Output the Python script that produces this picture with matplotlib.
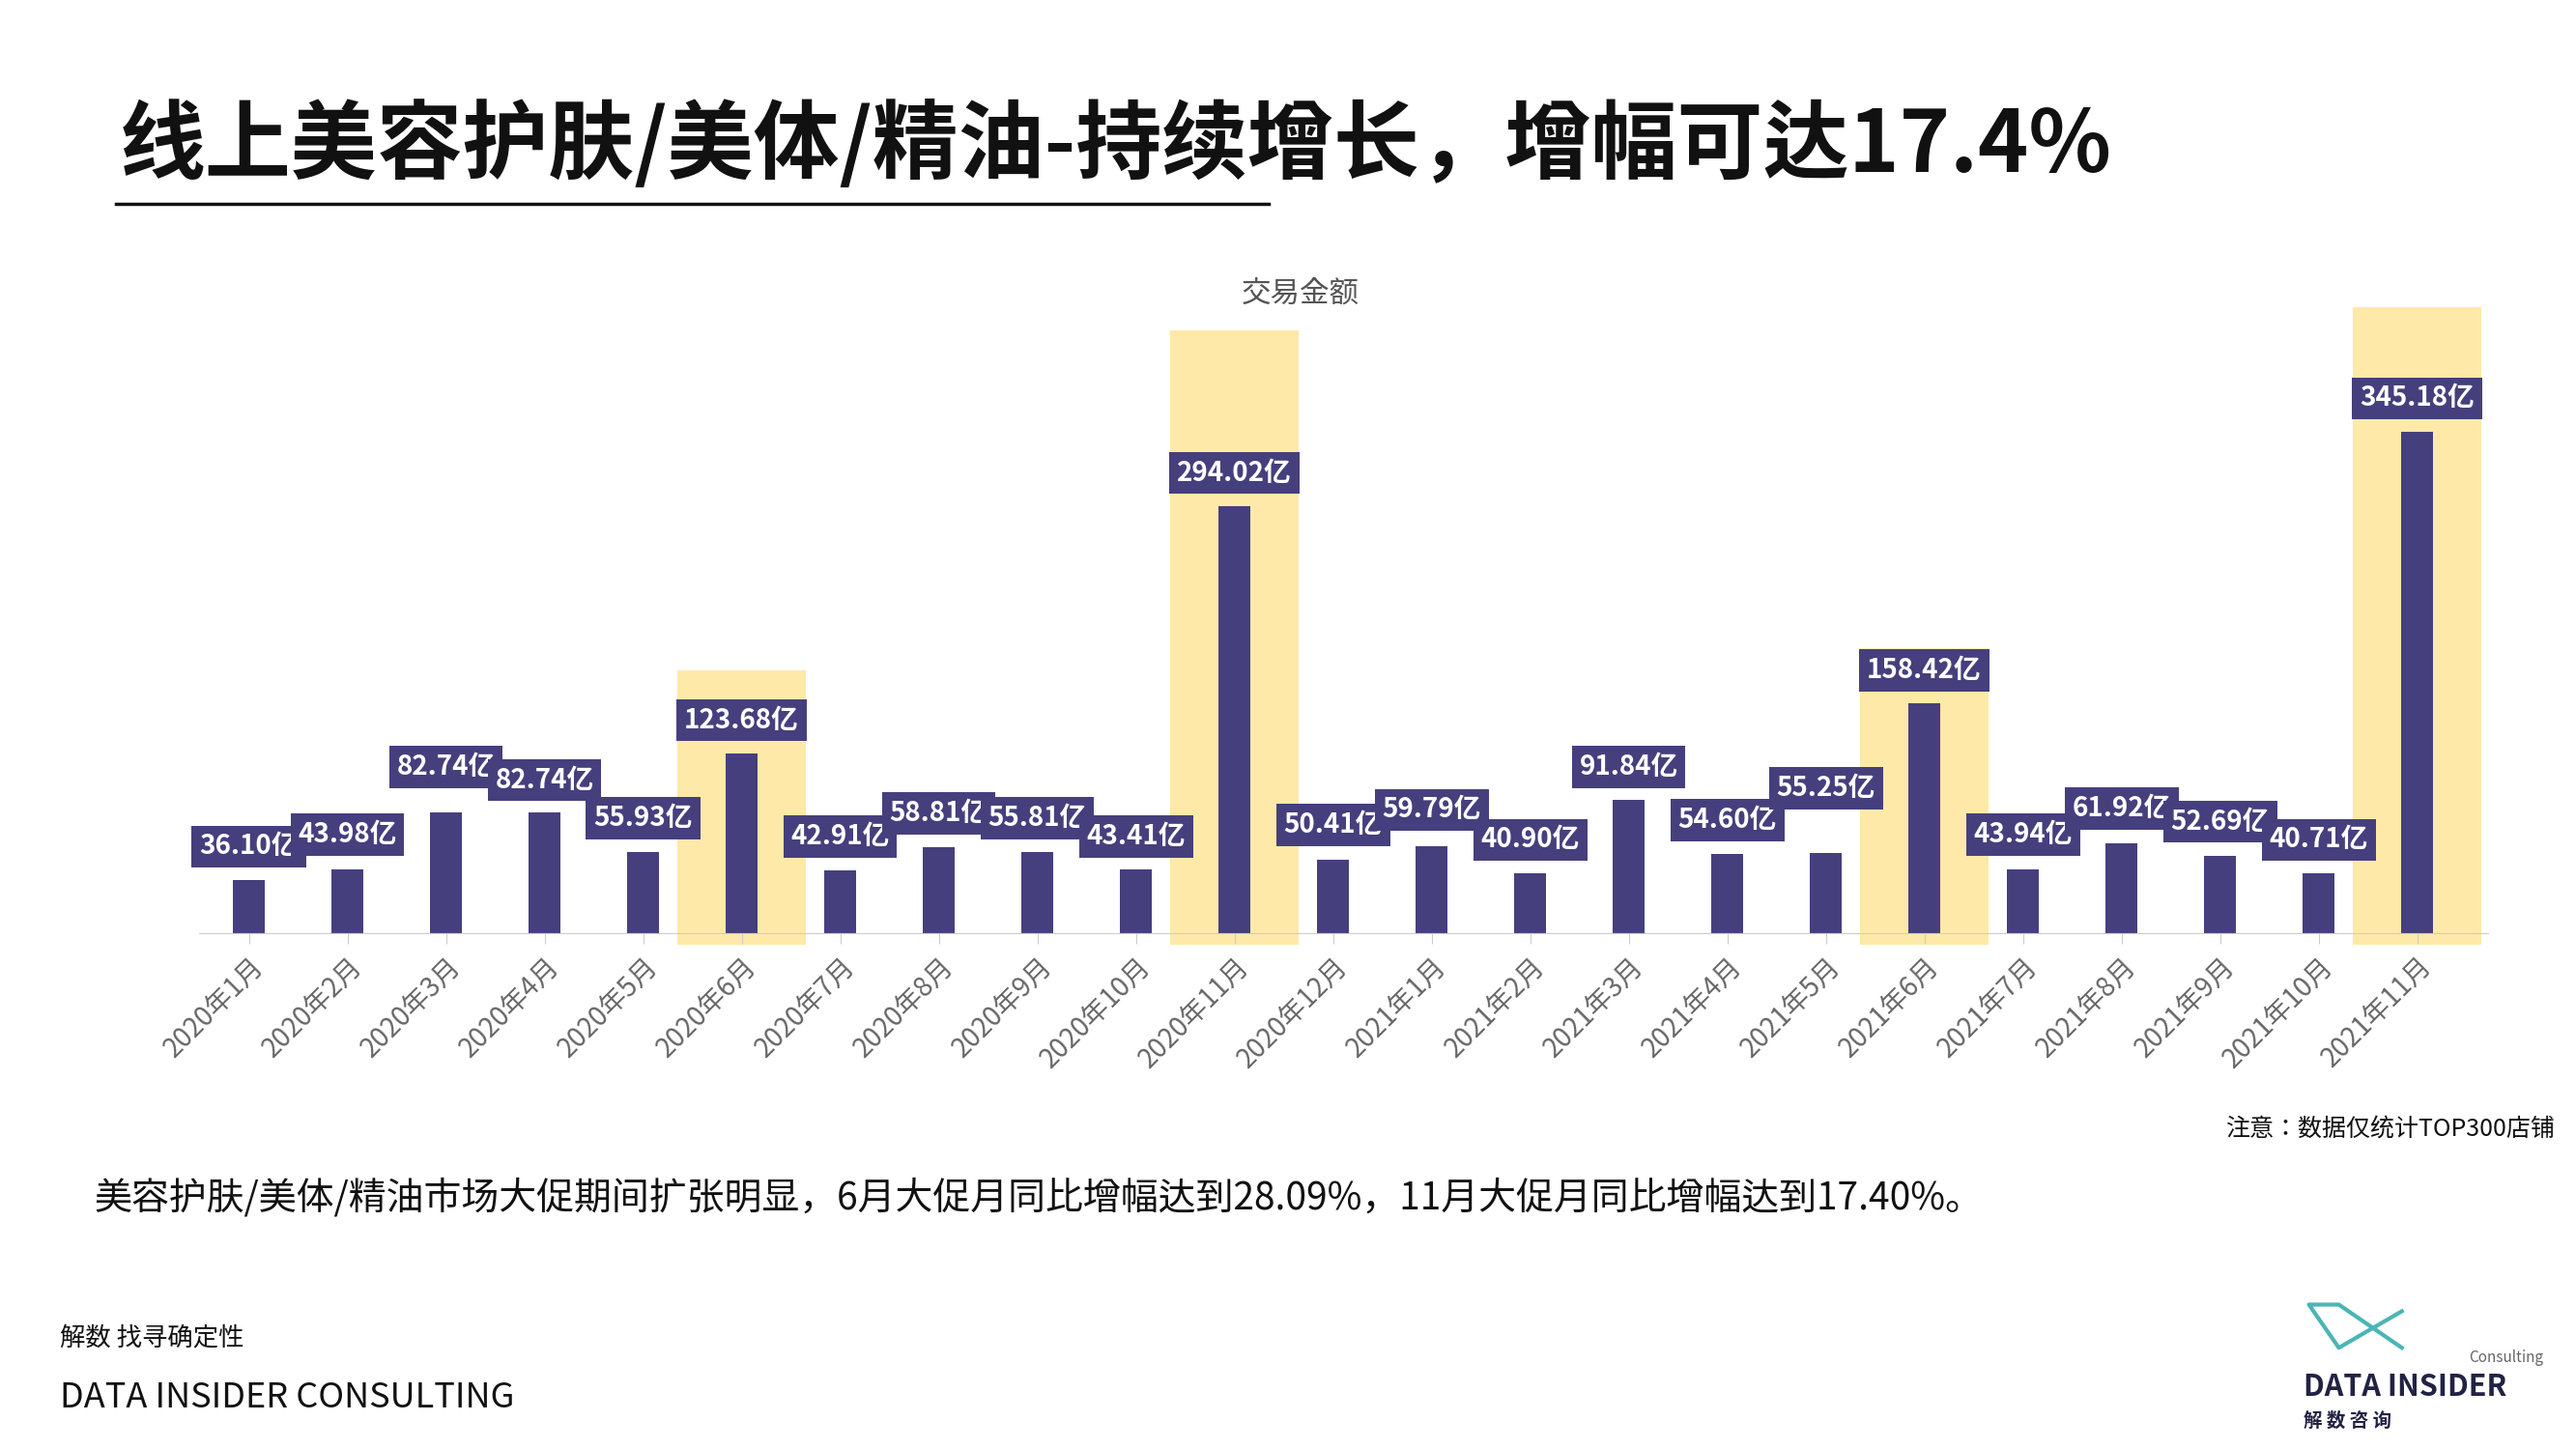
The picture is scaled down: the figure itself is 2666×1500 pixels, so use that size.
import matplotlib
matplotlib.use("Agg")
import matplotlib.pyplot as plt
from matplotlib import font_manager
from matplotlib.patches import Rectangle
from matplotlib.lines import Line2D

names = sorted(set(f.name for f in font_manager.fontManager.ttflist))
cjk = next((n for n in names if 'Sans CJK SC' in n), None) or \
      next((n for n in names if 'Sans' in n and 'CJK' in n), 'Noto Sans CJK SC')
plt.rcParams['font.family'] = [cjk, 'DejaVu Sans']

months = ["2020年1月","2020年2月","2020年3月","2020年4月","2020年5月","2020年6月","2020年7月",
          "2020年8月","2020年9月","2020年10月","2020年11月","2020年12月","2021年1月","2021年2月",
          "2021年3月","2021年4月","2021年5月","2021年6月","2021年7月","2021年8月","2021年9月",
          "2021年10月","2021年11月"]
values = [36.10,43.98,82.74,82.74,55.93,123.68,42.91,58.81,55.81,43.41,294.02,50.41,59.79,40.90,
          91.84,54.60,55.25,158.42,43.94,61.92,52.69,40.71,345.18]
highlight_idx = [5, 10, 17, 22]
highlight_top = [181, 415, 196, 431]
label_py = [510,503,462,470,493,434,504,490,493,504,285,497,488,506,462,494,475,404,503,487,495,506,240]

W, H = 1553, 873
fig = plt.figure(figsize=(26.66, 15), dpi=100)
def fx(x): return x / W
def fy(y): return 1 - y / H

DARK = '#463F7D'
ax = fig.add_axes([fx(120), fy(562), fx(1500) - fx(120), fy(185) - fy(562)])
ymax = 431
ax.set_ylim(0, ymax)
n = len(values)
ax.set_xlim(-0.505, n - 1 + 0.72)
def py2d(py): return (562 - py) / (562 - 185) * ymax

for i, t in zip(highlight_idx, highlight_top):
    ax.add_patch(Rectangle((i - 0.65, -8), 1.3, t + 8, facecolor='#FFE9A8', edgecolor='none',
                           zorder=0, clip_on=False))
ax.bar(range(n), values, width=0.32, color=DARK, zorder=2)
for i, (v, ly) in enumerate(zip(values, label_py)):
    ax.text(i, py2d(ly), f"{v:.2f}亿", ha='center', va='center', color='white', fontsize=20,
            fontweight='bold', zorder=4,
            bbox=dict(boxstyle='square,pad=0.28', facecolor=DARK, edgecolor='none'))
ax.set_xticks(range(n))
ax.set_xticklabels(months, rotation=45, ha='right', rotation_mode='anchor', fontsize=20, color='#666666')
ax.set_yticks([])
for s in ['top', 'right', 'left']:
    ax.spines[s].set_visible(False)
ax.spines['bottom'].set_color('#cccccc')
ax.tick_params(axis='x', length=8, color='#cccccc', pad=6)

fig.text(fx(72), fy(88), "线上美容护肤/美体/精油-持续增长，增幅可达17.4%", fontsize=64,
         fontweight='bold', va='center', ha='left', color='#111111')
fig.add_artist(Line2D([fx(70), fx(765)], [fy(123), fy(123)], color='#111111', lw=2.5))
fig.text(fx(784), fy(177), "交易金额", fontsize=22, ha='center', va='center', color='#555555')
fig.text(fx(1540), fy(680), "注意：数据仅统计TOP300店铺", fontsize=18, ha='right', va='center', color='#111111')
fig.text(fx(57), fy(722), "美容护肤/美体/精油市场大促期间扩张明显，6月大促月同比增幅达到28.09%，11月大促月同比增幅达到17.40%。",
         fontsize=28, ha='left', va='center', color='#111111')
fig.text(fx(36), fy(806), "解数 找寻确定性", fontsize=19, ha='left', va='center', color='#111111')
fig.text(fx(36), fy(842), "DATA INSIDER CONSULTING", fontsize=26, ha='left', va='center', color='#111111')
# logo
fig.add_artist(Line2D([fx(1448), fx(1410), fx(1392), fx(1410), fx(1448)],
                      [fy(790), fy(812), fy(786), fy(786), fy(812)], color='#4BB5B5', lw=3))
fig.text(fx(1533), fy(818), "Consulting", fontsize=11, ha='right', va='center', color='#666666', style='italic')
fig.text(fx(1389), fy(836), "DATA INSIDER", fontsize=22, ha='left', va='center', color='#222244', fontweight='bold')
fig.text(fx(1389), fy(856), "解 数 咨 询", fontsize=14, ha='left', va='center', color='#222244', fontweight='bold')

fig.savefig("out.png", dpi=100, facecolor='white')
